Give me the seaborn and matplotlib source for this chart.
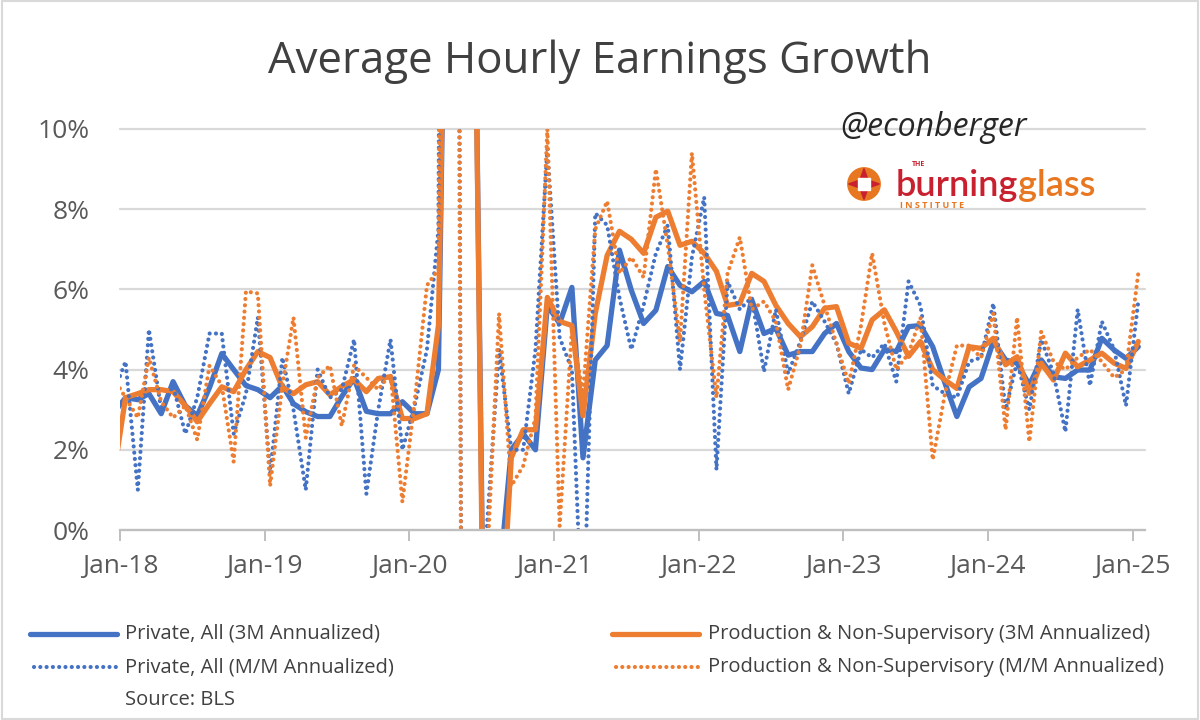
import numpy as np
import pandas as pd
import matplotlib
matplotlib.use("Agg")
import matplotlib.pyplot as plt
import seaborn as sns
from matplotlib.lines import Line2D
from matplotlib.patches import Circle, Rectangle, Polygon

# ---------------- data (Dec-17 .. Jan-25, monthly, % annualized) ----------------
months = pd.date_range("2017-12-01", periods=86, freq="MS") + pd.Timedelta(days=14)

private_3m = [2.9,
    3.3, 3.25, 3.4, 2.9, 3.7, 3.1, 2.85, 3.55, 4.4, 4.0, 3.6, 3.5,
    3.3, 3.6, 3.15, 2.95, 2.83, 2.83, 3.33, 3.78, 2.96, 2.9, 2.9, 3.2,
    2.9, 2.9, 4.0, 24.0, 20.0, 14.0, -9.0, -1.3, 2.0, 2.4, 2.0, 5.6,
    5.15, 6.05, 1.8, 4.24, 4.6, 6.98, 5.98, 5.15, 5.48, 6.57, 6.1, 5.94,
    6.2, 5.4, 5.35, 4.45, 5.74, 4.9, 5.03, 4.36, 4.45, 4.45, 4.9, 5.15,
    4.45, 4.04, 4.0, 4.5, 4.45, 5.07, 5.1, 4.57, 3.66, 2.83, 3.57, 3.78,
    4.7, 4.24, 4.16, 3.62, 4.24, 3.82, 3.78, 3.99, 3.99, 4.78, 4.49, 4.28,
    4.57]

prod_3m = [1.3,
    3.3, 3.4, 3.5, 3.5, 3.45, 3.1, 2.7, 3.15, 3.57, 3.45, 4.0, 4.45,
    4.3, 3.55, 3.4, 3.62, 3.7, 3.37, 3.58, 3.75, 3.45, 3.78, 3.82, 2.78,
    2.78, 2.9, 5.1, 23.0, 20.0, 14.0, -10.0, -3.5, 1.8, 2.5, 2.5, 5.8,
    5.2, 5.1, 2.85, 5.4, 6.85, 7.45, 7.25, 6.9, 7.8, 7.95, 7.1, 7.2,
    6.9, 6.45, 5.6, 5.65, 6.4, 6.2, 5.6, 5.15, 4.82, 5.07, 5.53, 5.57,
    4.66, 4.53, 5.24, 5.49, 4.95, 4.33, 4.7, 4.0, 3.74, 3.53, 4.57, 4.53,
    4.78, 4.12, 4.32, 3.41, 4.16, 3.74, 4.41, 4.07, 4.24, 4.41, 4.16, 4.03,
    4.7]

private_mm = [3.4,
    4.2, 1.0, 5.0, 3.0, 3.6, 2.4, 3.3, 4.9, 4.9, 2.4, 3.4, 5.3,
    1.4, 4.3, 3.0, 1.0, 4.0, 3.3, 3.5, 4.75, 0.9, 3.0, 4.75, 2.0,
    3.1, 4.5, 7.5, 72.0, -11.0, -13.0, 0.0, 4.5, 2.0, 2.0, 4.5, 9.5,
    4.8, 4.0, -3.0, 7.9, 7.6, 5.8, 4.5, 5.6, 6.9, 7.6, 4.0, 6.8,
    8.3, 1.5, 6.2, 5.5, 5.8, 3.95, 5.5, 3.9, 4.7, 5.7, 5.2, 4.65,
    3.4, 4.5, 4.3, 4.65, 3.7, 6.2, 5.6, 3.6, 3.4, 3.3, 4.2, 4.3,
    5.65, 3.0, 4.2, 3.0, 4.75, 3.9, 2.45, 5.5, 3.6, 5.2, 4.5, 3.1,
    5.7]

prod_mm = [3.8,
    3.3, 2.8, 4.3, 3.2, 2.8, 3.1, 2.25, 4.1, 3.6, 1.7, 5.95, 5.9,
    1.1, 3.6, 5.3, 2.3, 3.8, 4.1, 2.6, 4.1, 3.8, 3.5, 3.9, 0.7,
    3.2, 6.1, 6.5, 65.0, -11.0, -14.0, -1.0, 5.4, 1.1, 1.6, 2.8, 10.0,
    0.1, 5.0, 3.4, 7.5, 8.2, 6.4, 6.8, 6.3, 9.0, 7.1, 4.7, 9.4,
    6.0, 3.3, 6.4, 7.3, 5.5, 5.7, 5.2, 3.5, 4.6, 6.6, 5.6, 4.65,
    3.65, 5.1, 6.9, 5.15, 4.0, 4.4, 5.3, 1.75, 3.4, 4.6, 4.6, 4.3,
    5.4, 2.5, 5.3, 2.2, 4.95, 4.2, 4.0, 4.3, 4.5, 4.2, 3.8, 4.0,
    6.4]

series_labels = ["Private, All (3M Annualized)",
                 "Production & Non-Supervisory (3M Annualized)",
                 "Private, All (M/M Annualized)",
                 "Production & Non-Supervisory (M/M Annualized)"]
tick_years = list(range(2018, 2026))
tick_labels = [f"Jan-{y % 100:02d}" for y in tick_years]
y_ticks = [0, 2, 4, 6, 8, 10]

BLUE = "#4472C4"
ORANGE = "#ED7D31"
GRID = "#d9d9d9"
TXT = "#595959"

df = pd.DataFrame({"month": months, "p3": private_3m, "n3": prod_3m,
                   "pm": private_mm, "nm": prod_mm})

sns.set_theme(style="white")
plt.rcParams['font.family'] = ['Open Sans', 'DejaVu Sans']

W, H = 1200, 720
fig = plt.figure(figsize=(12, 7.2), dpi=100)
ax = fig.add_axes([120 / W, 1 - 530 / H, (1145 - 120) / W, (530 - 129) / H])

solid_lw = 3.8
dot_lw = 3.0
dot_style = (0, (0.01, 1.5))

sns.lineplot(data=df, x="month", y="p3", color=BLUE, lw=solid_lw, ax=ax,
             solid_joinstyle="round", solid_capstyle="round")
sns.lineplot(data=df, x="month", y="n3", color=ORANGE, lw=solid_lw, ax=ax,
             solid_joinstyle="round", solid_capstyle="round")
sns.lineplot(data=df, x="month", y="pm", color=BLUE, lw=dot_lw, ax=ax)
ax.lines[-1].set_linestyle(dot_style)
ax.lines[-1].set_dash_capstyle("round")
sns.lineplot(data=df, x="month", y="nm", color=ORANGE, lw=dot_lw, ax=ax)
ax.lines[-1].set_linestyle(dot_style)
ax.lines[-1].set_dash_capstyle("round")

ax.set_xlim(pd.Timestamp("2018-01-01"), pd.Timestamp("2025-02-01"))
ax.set_ylim(0, 10)
ax.set_xlabel("")
ax.set_ylabel("")
ax.set_xticks(pd.to_datetime([f"{y}-01-01" for y in tick_years]))
ax.set_xticklabels(tick_labels)
ax.set_yticks(y_ticks)
ax.set_yticklabels([f"{v}%" for v in y_ticks])
ax.yaxis.grid(True, color=GRID, lw=1.6)
ax.xaxis.grid(False)
ax.set_axisbelow(True)
for gl in ax.get_ygridlines():
    gl.set_clip_on(False)
for s in ["top", "right", "left"]:
    ax.spines[s].set_visible(False)
ax.spines["bottom"].set_color("#bfbfbf")
ax.spines["bottom"].set_linewidth(1.6)
ax.tick_params(axis="x", direction="out", length=8, width=1.4, color="#bfbfbf",
               pad=9, labelsize=19, labelcolor=TXT, bottom=True)
ax.tick_params(axis="y", length=0, pad=22, labelsize=19, labelcolor=TXT)

# title
fig.text(0.5, 1 - 62 / H, "Average Hourly Earnings Growth", ha="center", va="center",
         fontsize=31.5, color="#404040")

# watermark
fig.text(934 / W, 1 - 128 / H, "@econberger", ha="center", va="center",
         fontsize=23, style="italic", color="#262626")

# logo (Burning Glass Institute)
lax = fig.add_axes([847 / W, 1 - 201 / H, 34 / W, 34 / H])
lax.set_xlim(-1.05, 1.05)
lax.set_ylim(-1.05, 1.05)
lax.set_aspect("equal")
lax.axis("off")
lax.add_patch(Circle((0, 0), 1.0, color="#E87722"))
lax.add_patch(Polygon([[0, 0.95], [0.25, 0.25], [-0.25, 0.25]], color="#C8202F"))
lax.add_patch(Polygon([[0, -0.95], [0.25, -0.25], [-0.25, -0.25]], color="#C8202F"))
lax.add_patch(Polygon([[0.95, 0], [0.25, 0.25], [0.25, -0.25]], color="#C8202F"))
lax.add_patch(Polygon([[-0.95, 0], [-0.25, 0.25], [-0.25, -0.25]], color="#C8202F"))
lax.add_patch(Rectangle((-0.38, -0.38), 0.76, 0.76, color="white"))

t_burn = fig.text(896 / W, 1 - 186 / H, "burning", ha="left", va="center",
                  fontsize=26, fontweight="semibold", color="#C8202F", family="Lato")
fig.canvas.draw()
bb = t_burn.get_window_extent()
fig.text(bb.x1 / W, 1 - 186 / H, "glass", ha="left", va="center",
         fontsize=26, fontweight="semibold", color="#E87722", family="Lato")
fig.text(912 / W, 1 - 165 / H, "THE", ha="left", va="center", fontsize=5,
         fontweight="bold", color="#C8202F")
fig.text(900 / W, 1 - 205 / H, "I N S T I T U T E", ha="left", va="center", fontsize=6.5,
         fontweight="bold", color="#E87722")

# legend (manual, Excel-like layout)
rows = [634, 667]
entries = [(30, 125, rows[0], BLUE, "-", series_labels[0]),
           (612, 708, rows[0], ORANGE, "-", series_labels[1]),
           (30, 125, rows[1], BLUE, ":", series_labels[2]),
           (612, 708, rows[1], ORANGE, ":", series_labels[3])]
for x0, xt, yy, col, ls, lab in entries:
    yf = 1 - yy / H
    if ls == "-":
        ln = Line2D([x0 / W, (x0 + 87) / W], [yf, yf], color=col, lw=solid_lw,
                    solid_capstyle="round", transform=fig.transFigure)
    else:
        ln = Line2D([(x0 + 4) / W, (x0 + 87) / W], [yf, yf], color=col, lw=dot_lw,
                    linestyle=dot_style, dash_capstyle="round", transform=fig.transFigure)
    fig.add_artist(ln)
    fig.text(xt / W, yf, lab, ha="left", va="center", fontsize=14.5, color="#404040")
fig.text(125 / W, 1 - 700 / H, "Source: BLS", ha="left", va="center", fontsize=14.5,
         color="#404040")

# chart border
fig.add_artist(Rectangle((0.0015, 0.002), 0.997, 0.996, fill=False, edgecolor=GRID,
                         lw=1.5, transform=fig.transFigure))

fig.savefig("out.png", dpi=100)
